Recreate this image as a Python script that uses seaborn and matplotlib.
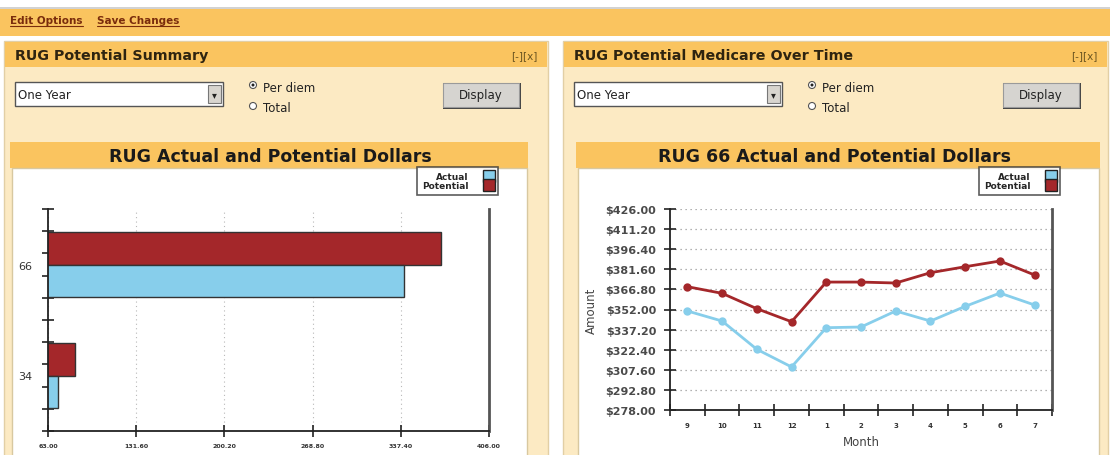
import numpy as np
import pandas as pd
import seaborn as sns
import matplotlib.pyplot as plt
from matplotlib.patches import Rectangle, Circle
from matplotlib.lines import Line2D
from matplotlib.ticker import FixedLocator, FuncFormatter

# --- data ---
rug_groups = ["66", "34"]
rug_actual = [339.7, 70.8]
rug_potential = [369.0, 84.3]
bar_ticks = [63.00, 131.60, 200.20, 268.80, 337.40, 406.00]

months = ["9", "10", "11", "12", "1", "2", "3", "4", "5", "6", "7"]
month_actual = [350.9, 343.5, 322.7, 309.7, 338.6, 339.1, 350.9, 343.5, 354.3, 364.1, 355.3]
month_potential = [368.8, 363.9, 352.6, 343.0, 372.2, 372.2, 371.5, 379.1, 383.5, 387.7, 377.4]
amount_ticks = [278.00, 292.80, 307.60, 322.40, 337.20, 352.00, 366.80, 381.60, 396.40, 411.20, 426.00]

RED = "#A4272A"
BLUE = "#87CEEB"
ORANGE = "#FAC45F"
BEIGE = "#FCEAC3"
W, H = 1110, 456

sns.set_style("white")
plt.rcParams["font.family"] = ["DejaVu Sans"]

fig = plt.figure(figsize=(W / 100, H / 100), dpi=100)

# page chrome, drawn in pixel coords
bg = fig.add_axes([0, 0, 1, 1])
bg.set_xlim(0, W)
bg.set_ylim(H, 0)
bg.axis("off")


def box(x0, y0, x1, y1, fc, ec="none", lw=1):
    bg.add_patch(Rectangle((x0, y0), x1 - x0, y1 - y0, fc=fc, ec=ec, lw=lw))


box(0, 8, W, 9.5, "#D2D2D2")
box(0, 9.5, W, 37, ORANGE)
links = []
for txt, x0 in [("Edit Options", 10), ("Save Changes", 97)]:
    links.append(bg.text(x0, 21, txt, fontsize=7.5, fontweight="bold", color="#7A2C0C", va="center"))

panels = [
    (4, 548, "RUG Potential Summary", 10, 528, "RUG Actual and Potential Dollars", 270),
    (563, 1108, "RUG Potential Medicare Over Time", 576, 1100, "RUG 66 Actual and Potential Dollars", 835),
]
for px0, px1, head, cx0, cx1, title, tx in panels:
    box(px0, 42, px1, H + 2, BEIGE, ec="#E2CFA5")
    box(px0 + 1, 43, px1 - 1, 68, ORANGE)
    bg.text(px0 + 11, 56, head, fontsize=10.3, fontweight="bold", color="#2E2410", va="center")
    bg.text(px1 - 10, 56, "[-][x]", fontsize=7.5, color="#6A5420", va="center", ha="right")
    # dropdown
    dx = px0 + 11
    box(dx, 83, dx + 208, 107, "white", ec="#555555")
    box(dx + 193, 86, dx + 206, 104, "#D8D5CF", ec="#777777", lw=0.8)
    bg.text(dx + 199.5, 95, "\u25BE", fontsize=7, ha="center", va="center", color="#222222")
    bg.text(dx + 3, 96, "One Year", fontsize=8.5, color="#222222", va="center")
    # radio buttons
    rx = dx + 238
    for ry, lab, on in [(86, "Per diem", True), (107, "Total", False)]:
        bg.add_patch(Circle((rx, ry), 3.5, fc="white", ec="#555555", lw=0.8))
        if on:
            bg.add_patch(Circle((rx, ry), 1.5, fc="#222222", ec="none"))
        bg.text(rx + 10, ry + 2, lab, fontsize=8.5, color="#222222", va="center")
    # display button
    bx = px1 - 105
    box(bx, 84, bx + 78, 110, "#444444")
    box(bx, 84, bx + 76, 108, "#D6D4D0", ec="#9A9A9A", lw=0.8)
    bg.text(bx + 38, 96, "Display", fontsize=8.5, color="#222222", ha="center", va="center")
    # chart frame
    box(cx0, 143, cx1, 169, ORANGE)
    box(cx0 + 2, 169, cx1 - 1, H + 2, "white", ec="#D8C8A0")
    bg.text(tx, 157, title, fontsize=12.5, fontweight="bold", color="#1A1A1A", ha="center", va="center")

# --- left: horizontal bars ---
ax1 = fig.add_axes([48 / W, 1 - 432 / H, 441 / W, 222 / H])
ax1.set_facecolor("none")
bars = pd.DataFrame({
    "rug": rug_groups * 2,
    "series": ["Potential"] * len(rug_groups) + ["Actual"] * len(rug_groups),
    "value": rug_potential + rug_actual,
})
sns.barplot(data=bars, x="value", y="rug", hue="series", order=rug_groups,
            hue_order=["Potential", "Actual"], palette={"Potential": RED, "Actual": BLUE},
            orient="h", width=0.58, saturation=1, edgecolor="#333333", linewidth=1,
            legend=False, ax=ax1)
ax1.set_xlim(bar_ticks[0], bar_ticks[-1])
ax1.set_ylim(1.5, -0.5)
ax1.set_xticks(bar_ticks)
ax1.set_xticklabels([f"{v:.2f}" for v in bar_ticks], fontsize=4.5, fontweight="bold", color="#333333")
ax1.set_yticks([0, 1])
ax1.set_yticklabels(rug_groups, fontsize=8, color="#333333")
ax1.yaxis.set_minor_locator(FixedLocator(np.linspace(-0.5, 1.5, 11)))
ax1.tick_params(axis="y", which="major", length=0, pad=11)
ax1.tick_params(axis="y", which="minor", left=True, direction="inout", length=8, width=1.2, color="#222222")
ax1.tick_params(axis="x", bottom=True, direction="inout", length=8, width=1.2, color="#222222", pad=5)
ax1.xaxis.grid(True, linestyle=(0, (1, 3)), color="#B8B8B8", lw=0.8)
ax1.set_xlabel("")
ax1.set_ylabel("")
ax1.spines["top"].set_visible(False)
ax1.spines["right"].set_color("#555555")
ax1.spines["right"].set_linewidth(2)
for s in ["left", "bottom"]:
    ax1.spines[s].set_color("#222222")
    ax1.spines[s].set_linewidth(1.3)

# --- right: monthly lines ---
ax2 = fig.add_axes([670 / W, 1 - 411 / H, 382 / W, 201 / H])
ax2.set_facecolor("none")
lines = pd.DataFrame({
    "month": months * 2,
    "series": ["Actual"] * len(months) + ["Potential"] * len(months),
    "amount": month_actual + month_potential,
})
sns.pointplot(data=lines, x="month", y="amount", hue="series", order=months,
              hue_order=["Actual", "Potential"], palette={"Actual": BLUE, "Potential": RED},
              markers="o", linestyles="-", errorbar=None, markersize=4.5, linewidth=2,
              legend=False, ax=ax2)
ax2.set_xlim(-0.5, len(months) - 0.5)
ax2.set_ylim(amount_ticks[0], amount_ticks[-1])
ax2.set_yticks(amount_ticks)
ax2.yaxis.set_major_formatter(FuncFormatter(lambda v, p: f"${v:.2f}"))
for t in ax2.get_yticklabels():
    t.set_fontweight("bold")
ax2.tick_params(axis="y", left=True, direction="inout", length=8, width=1.2, color="#222222",
                labelsize=8, labelcolor="#4A4A4A", pad=6)
ax2.set_xticks(range(len(months)))
ax2.set_xticklabels(months, fontsize=5, fontweight="bold", color="#333333")
ax2.xaxis.set_minor_locator(FixedLocator(np.arange(-0.5, len(months), 1)))
ax2.tick_params(axis="x", which="major", length=0, pad=9)
ax2.tick_params(axis="x", which="minor", bottom=True, direction="inout", length=8, width=1.2, color="#222222")
ax2.yaxis.grid(True, linestyle=(0, (1, 3)), color="#999999", lw=0.9)
ax2.set_xlabel("Month", fontsize=8.5, color="#444444", labelpad=5)
ax2.set_ylabel("Amount", fontsize=8.5, color="#444444")
ax2.yaxis.set_label_coords(-0.19, 0.5)
ax2.spines["top"].set_visible(False)
ax2.spines["right"].set_color("#555555")
ax2.spines["right"].set_linewidth(2)
for s in ["left", "bottom"]:
    ax2.spines[s].set_color("#222222")
    ax2.spines[s].set_linewidth(1.3)

# legends (box with swatches on the right)
handles = [Line2D([], [], marker="s", ls="none", markersize=8.5, markerfacecolor=BLUE, markeredgecolor="#222222", label="Actual"),
           Line2D([], [], marker="s", ls="none", markersize=8.5, markerfacecolor=RED, markeredgecolor="#222222", label="Potential")]
for ax, xr in [(ax1, 498), (ax2, 1060)]:
    leg = ax.legend(handles=handles, loc="upper right", bbox_to_anchor=(xr / W, 1 - 168 / H),
                    bbox_transform=fig.transFigure, markerfirst=False, fancybox=False,
                    frameon=True, edgecolor="#333333", prop={"size": 6.5, "weight": "bold"},
                    handlelength=0.9, handletextpad=1.8, labelspacing=0.05, borderpad=0.55,
                    borderaxespad=0)
    leg.get_frame().set_linewidth(1.2)

# underline the two links using their rendered width
fig.canvas.draw()
inv = bg.transData.inverted()
for t in links:
    bb = t.get_window_extent()
    (xa, _), (xb, _) = inv.transform([(bb.x0, bb.y0), (bb.x1, bb.y0)])
    bg.plot([xa, xb], [27, 27], color="#7A2C0C", lw=0.8)

fig.savefig("out.png", dpi=100)
